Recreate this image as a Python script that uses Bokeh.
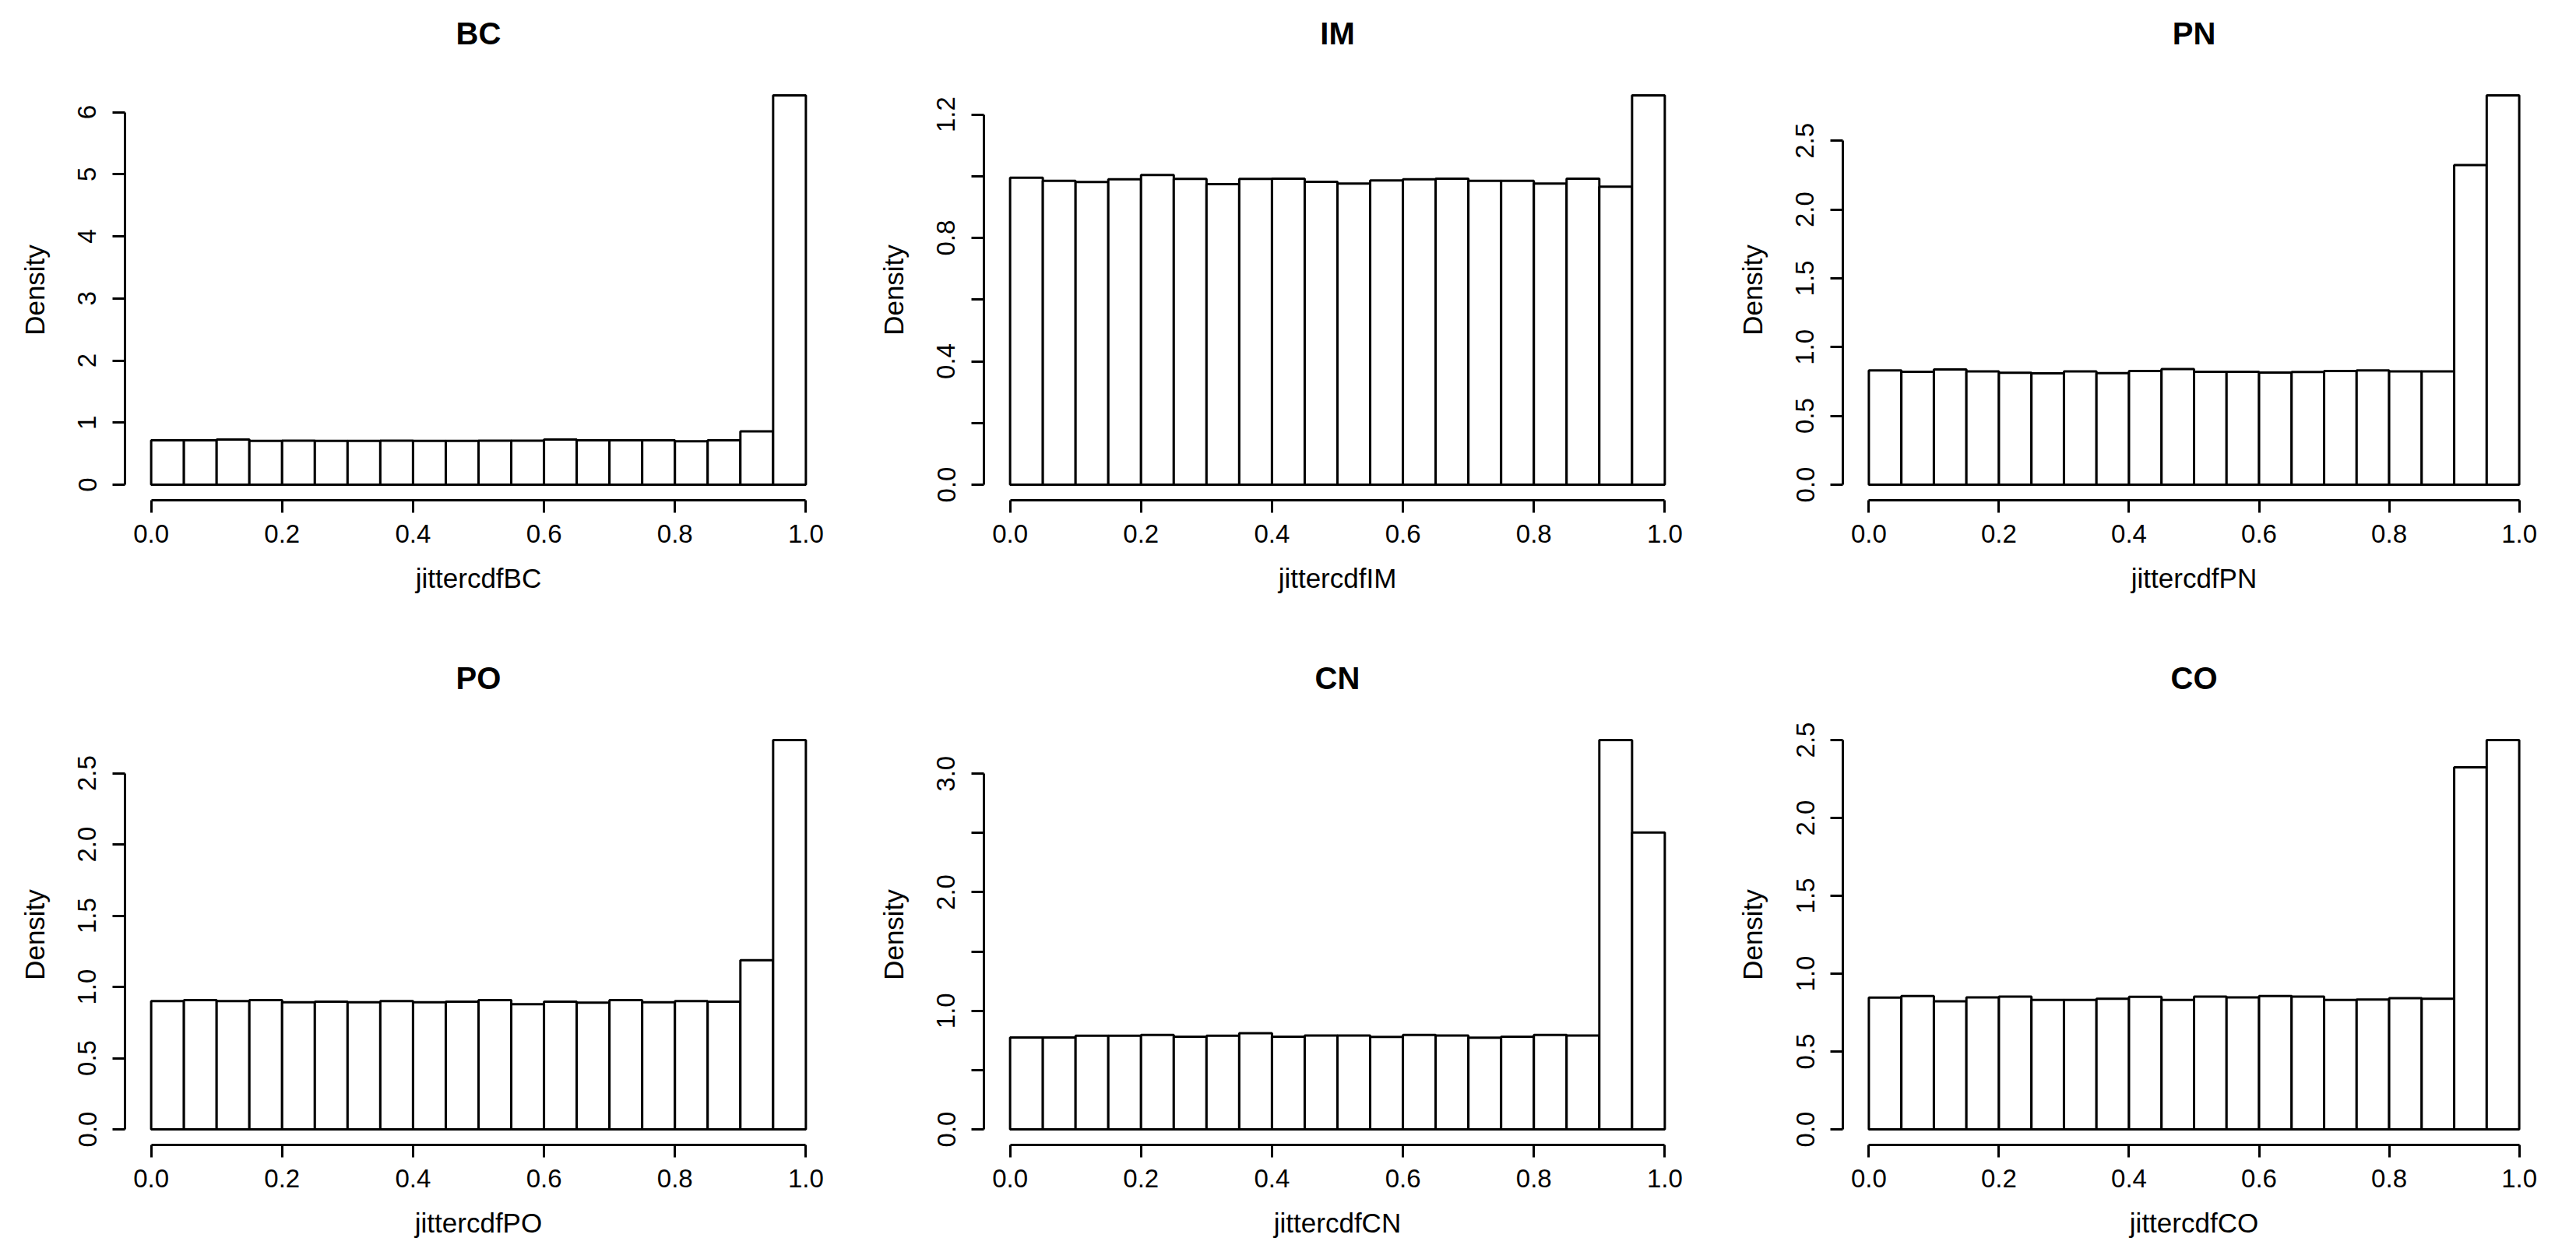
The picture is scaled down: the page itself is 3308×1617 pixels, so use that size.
from bokeh.plotting import figure
from bokeh.layouts import column, row
from bokeh.models import Range1d, FixedTicker, PrintfTickFormatter, LinearAxis
from bokeh.embed import file_html
from bokeh.resources import INLINE

# ---------------- data ----------------
bin_edges = [0.00, 0.05, 0.10, 0.15, 0.20, 0.25, 0.30, 0.35, 0.40, 0.45, 0.50,
             0.55, 0.60, 0.65, 0.70, 0.75, 0.80, 0.85, 0.90, 0.95, 1.00]

panel_names = ["BC", "IM", "PN", "PO", "CN", "CO"]

density_BC = [0.714, 0.714, 0.727, 0.706, 0.710, 0.706, 0.706, 0.710, 0.706, 0.706,
              0.710, 0.710, 0.727, 0.714, 0.714, 0.714, 0.700, 0.714, 0.860, 6.270]
density_IM = [0.995, 0.985, 0.981, 0.990, 1.004, 0.991, 0.974, 0.991, 0.992, 0.982,
              0.976, 0.986, 0.990, 0.992, 0.985, 0.985, 0.976, 0.992, 0.966, 1.262]
density_PN = [0.831, 0.820, 0.837, 0.824, 0.813, 0.809, 0.824, 0.811, 0.826, 0.841,
              0.820, 0.820, 0.815, 0.819, 0.826, 0.831, 0.824, 0.824, 2.324, 2.830]
density_PO = [0.901, 0.907, 0.901, 0.907, 0.892, 0.896, 0.892, 0.901, 0.892, 0.896,
              0.907, 0.878, 0.896, 0.889, 0.907, 0.892, 0.901, 0.896, 1.187, 2.733]
density_CN = [0.775, 0.775, 0.789, 0.789, 0.797, 0.782, 0.789, 0.811, 0.782, 0.791,
              0.791, 0.780, 0.797, 0.791, 0.773, 0.782, 0.797, 0.791, 3.284, 2.504]
density_CO = [0.846, 0.856, 0.822, 0.847, 0.852, 0.831, 0.831, 0.839, 0.851, 0.831,
              0.852, 0.847, 0.856, 0.852, 0.831, 0.834, 0.842, 0.839, 2.325, 2.500]

x_ticks = [0.0, 0.2, 0.4, 0.6, 0.8, 1.0]

yticks_BC = [0, 1, 2, 3, 4, 5, 6]
yminor_BC = []
yticks_IM = [0.0, 0.4, 0.8, 1.2]
yminor_IM = [0.2, 0.6, 1.0]
yticks_PN = [0.0, 0.5, 1.0, 1.5, 2.0, 2.5]
yminor_PN = []
yticks_PO = [0.0, 0.5, 1.0, 1.5, 2.0, 2.5]
yminor_PO = []
yticks_CN = [0.0, 1.0, 2.0, 3.0]
yminor_CN = [0.5, 1.5, 2.5]
yticks_CO = [0.0, 0.5, 1.0, 1.5, 2.0, 2.5]
yminor_CO = []

y_formats = {"BC": "%d", "IM": "%.1f", "PN": "%.1f", "PO": "%.1f", "CN": "%.1f", "CO": "%.1f"}

# ---------------- style ----------------
FONT = "Liberation Sans"
TICK_FS = "33px"
LAB_FS = "35px"
TITLE_FS = "40px"
LW = 3


def style_axis(ax, ticks, minor, fmt, bounds, label, standoff, label_standoff, orientation):
    ax.ticker = FixedTicker(ticks=ticks, minor_ticks=minor)
    ax.formatter = PrintfTickFormatter(format=fmt)
    ax.bounds = bounds
    ax.axis_label = label
    ax.axis_label_text_font = FONT
    ax.axis_label_text_font_size = LAB_FS
    ax.axis_label_text_font_style = "normal"
    ax.axis_label_text_color = "black"
    ax.axis_label_standoff = label_standoff
    ax.major_label_text_font = FONT
    ax.major_label_text_font_size = TICK_FS
    ax.major_label_text_color = "black"
    ax.major_label_standoff = standoff
    ax.major_label_orientation = orientation
    ax.axis_line_width = LW
    ax.axis_line_color = "black"
    ax.major_tick_line_width = LW
    ax.major_tick_line_color = "black"
    ax.major_tick_out = 16
    ax.major_tick_in = 0
    ax.minor_tick_line_width = LW
    ax.minor_tick_line_color = "black"
    ax.minor_tick_out = 16
    ax.minor_tick_in = 0


def make_panel(name, dens, yticks, yminor, width, height, top, bottom, right):
    ymax = max(dens)
    p = figure(width=width, height=height, output_backend="svg", toolbar_location=None,
               x_range=Range1d(-0.04, 1.04), y_range=Range1d(-0.04 * ymax, 1.04 * ymax),
               min_border_left=160, min_border_right=right,
               min_border_top=top, min_border_bottom=bottom)
    p.quad(left=bin_edges[:-1], right=bin_edges[1:], bottom=0, top=dens,
           fill_color="white", line_color="black", line_width=LW)
    p.grid.visible = False
    p.outline_line_color = None
    p.background_fill_color = "white"
    p.border_fill_color = "white"

    bottom_axis = p.below[0]
    left_axis = p.left[0]
    style_axis(bottom_axis, x_ticks, [], "%.1f", (0, 1), "jittercdf" + name, 15, 23, "horizontal")
    style_axis(left_axis, yticks, yminor, y_formats[name], (0, yticks[-1]),
               "Density", 21, 34, "parallel")

    # panel title: a tick-less axis above the frame carries the bold title text
    title_axis = LinearAxis(ticker=FixedTicker(ticks=[]), axis_label=name,
                            axis_line_color=None, major_tick_line_color=None,
                            minor_tick_line_color=None, major_tick_out=0, major_tick_in=0,
                            minor_tick_out=0, minor_tick_in=0, major_label_standoff=0,
                            axis_label_standoff=38,
                            axis_label_text_font=FONT, axis_label_text_font_size=TITLE_FS,
                            axis_label_text_font_style="bold", axis_label_text_color="black")
    p.add_layout(title_axis, "above")
    return p


dens_all = {"BC": density_BC, "IM": density_IM, "PN": density_PN,
            "PO": density_PO, "CN": density_CN, "CO": density_CO}
yt_all = {"BC": (yticks_BC, yminor_BC), "IM": (yticks_IM, yminor_IM),
          "PN": (yticks_PN, yminor_PN), "PO": (yticks_PO, yminor_PO),
          "CN": (yticks_CN, yminor_CN), "CO": (yticks_CO, yminor_CO)}

widths = [1103, 1103, 1096]
rights = [35, 35, 34]

row1 = []
row2 = []
for i, name in enumerate(panel_names[:3]):
    yt, ym = yt_all[name]
    row1.append(make_panel(name, dens_all[name], yt, ym, widths[i], 782, 102, 140, rights[i]))
for i, name in enumerate(panel_names[3:]):
    yt, ym = yt_all[name]
    row2.append(make_panel(name, dens_all[name], yt, ym, widths[i], 828, 148, 140, rights[i]))

layout = column(row(*row1), row(*row2))

open("out.html", "w").write(file_html(layout, INLINE))
